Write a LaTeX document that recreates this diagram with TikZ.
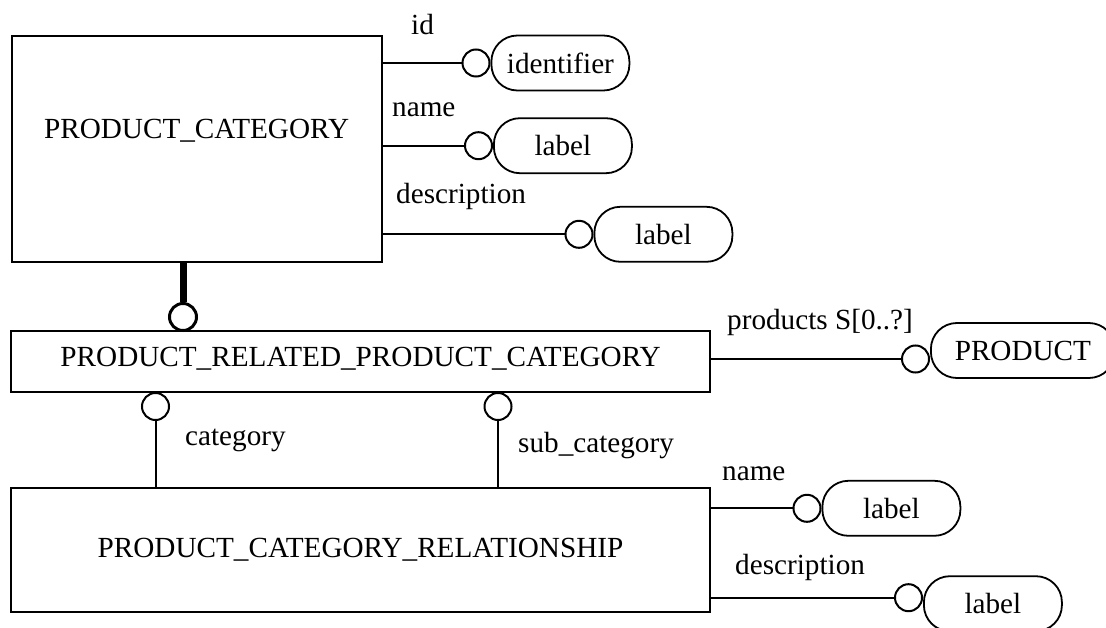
\documentclass[tikz,border=0pt]{standalone}
\usepackage{fontspec}
\setmainfont{Liberation Serif}
\usetikzlibrary{positioning}
\tikzstyle{entity} = [rectangle, draw=black, line width=2pt, inner sep=0pt, text centered]
\tikzstyle{simpletype} = [rectangle, rounded corners=26pt, draw=black, line width=1.8pt, minimum width=138pt, minimum height=55pt, inner sep=0pt, text centered]
\tikzstyle{ring} = [circle, draw=black, line width=2pt, inner sep=0pt, minimum size=27pt]
\tikzstyle{attr} = [anchor=base west, inner sep=0pt]
\tikzstyle{rel} = [line width=2pt]

\begin{document}
\begin{tikzpicture}[x=1pt,y=-1pt,font=\fontsize{29.2pt}{34pt}\selectfont]
    \useasboundingbox (0,0) rectangle (1106,628);
    % entities
    \node (cat) [entity, minimum width=370pt, minimum height=226.6pt, text depth=40pt] at (196.6,149) {PRODUCT\_CATEGORY};
    \node (relcat) [entity, minimum width=699pt, minimum height=61.6pt, text depth=9pt] at (360.6,361.5) {PRODUCT\_RELATED\_PRODUCT\_CATEGORY};
    \node (catrel) [entity, minimum width=699pt, minimum height=123.7pt] at (360.5,549.9) {PRODUCT\_CATEGORY\_RELATIONSHIP};

    % attributes of PRODUCT_CATEGORY
    \node (idring) [ring] at (476,63) {};
    \node (identifier) [simpletype, right=0pt of idring] {identifier};
    \node (namering) [ring] at (478.5,145.7) {};
    \node (namelabel) [simpletype, right=0pt of namering] {label};
    \node (descring) [ring] at (579,234.3) {};
    \node (desclabel) [simpletype, right=0pt of descring] {label};
    \draw [rel] (cat.east |- idring) -- (idring);
    \draw [rel] (cat.east |- namering) -- (namering);
    \draw [rel] (cat.east |- descring) -- (descring);
    \node (idtext) [attr] at (411,34.3) {id};
    \node (nametext) [attr] at (392,116.7) {name};
    \node (desctext) [attr] at (396,204) {description};

    % subtype link
    \node (catring) [ring, line width=3pt] at (183,317) {};
    \draw [line width=7pt] (cat.south -| catring) -- (catring);

    % products
    \node (prodring) [ring] at (915.5,359) {};
    \node (product) [simpletype, minimum width=184pt, right=0pt of prodring, yshift=8.5pt] {PRODUCT};
    \draw [rel] (relcat.east |- prodring) -- (prodring);
    \node (prodtext) [attr] at (727,330) {products S[0..?]};

    % category and sub_category
    \node (catgring) [ring] at (155.5,406.5) {};
    \node (subring) [ring] at (498,406.5) {};
    \draw [rel] (catrel.north -| catgring) -- (catgring);
    \draw [rel] (catrel.north -| subring) -- (subring);
    \node (catgtext) [attr] at (185,445.7) {category};
    \node (subtext) [attr] at (518,452.7) {sub\_category};

    % attributes of PRODUCT_CATEGORY_RELATIONSHIP
    \node (rnamering) [ring] at (807,508.3) {};
    \node (rnamelabel) [simpletype, right=0pt of rnamering] {label};
    \node (rdescring) [ring] at (908.5,597.7) {};
    \node (rdesclabel) [simpletype, right=0pt of rdescring, yshift=-6pt] {label};
    \draw [rel] (catrel.east |- rnamering) -- (rnamering);
    \draw [rel] (catrel.east |- rdescring) -- (rdescring);
    \node (rnametext) [attr] at (722,480.5) {name};
    \node (rdesctext) [attr] at (735,574.5) {description};
\end{tikzpicture}
\end{document}
